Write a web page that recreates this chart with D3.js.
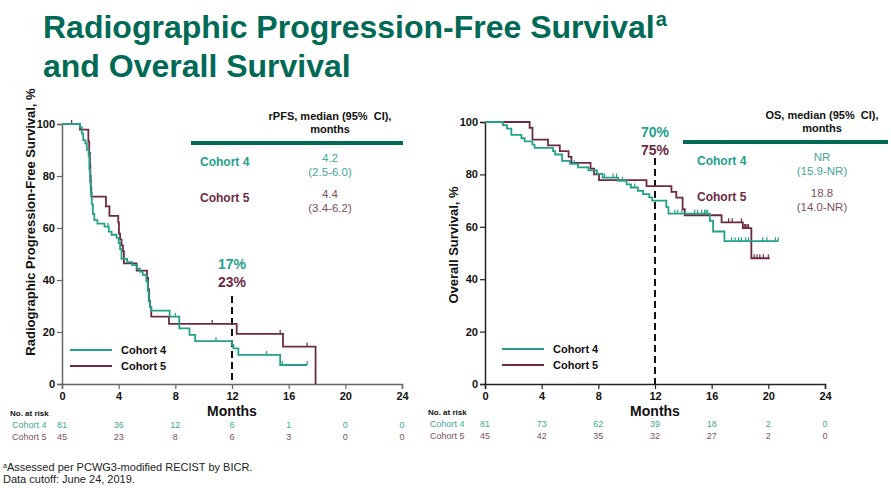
<!DOCTYPE html>
<html><head><meta charset="utf-8">
<script src="https://cdn.jsdelivr.net/npm/d3@7"></script>
<style>body{margin:0;background:#fff}svg{display:block;font-family:"Liberation Sans",Arial,sans-serif}text{white-space:pre}</style>
</head><body>
<script>
// ---------- DATA ----------
const monthTicks = [0,4,8,12,16,20,24];
const yTicks = [0,20,40,60,80,100];
const cohorts = ["Cohort 4","Cohort 5"];

const rpfsC4 = [[0,100],[1.27,98.8],[1.4,96.3],[1.5,93.8],[1.65,92.6],[1.75,90.1],[1.88,87.7],[1.93,82.7],[1.98,77.8],[2.03,73.5],[2.1,69.1],[2.18,65.4],[2.28,63],[2.5,61.7],[3.0,60.5],[3.3,58.6],[3.5,57.4],[3.85,56.2],[4.0,54.3],[4.1,51.9],[4.2,48.1],[4.6,46.9],[4.95,45.7],[5.3,44.4],[5.5,43.2],[5.7,42],[5.95,39.5],[6.05,35.8],[6.12,32.1],[6.2,29.6],[6.3,28.2],[7.6,25.9],[8.28,21.4],[9.0,18.9],[9.4,16.5],[12.0,15.0],[12.1,13.7],[12.45,11.2],[15.4,7.3],[17.3,7.3]];
const rpfsC5 = [[0,100],[1.27,97.8],[1.86,93.3],[1.92,88.9],[1.97,84.4],[2.0,80],[2.03,75.6],[2.07,72.1],[3.1,68.3],[3.35,64.7],[3.97,62.2],[4.02,57.8],[4.1,55.6],[4.2,53.3],[4.3,51.1],[4.37,46.4],[5.27,43.6],[6.0,40.8],[6.08,36.4],[6.15,32],[6.22,29.6],[6.3,25.9],[7.55,23.1],[12.33,19.25],[15.6,14.4],[17.9,0]];
const rpfsC4Censor = [3.25,8.0,10.87,14.45,15.55,17.3];
const rpfsC5Censor = [0.68,10.6,15.4,17.3];

const osC4 = [[0,100],[1.27,98.8],[1.55,97.5],[1.86,95.1],[2.57,93.8],[2.8,92.6],[3.35,91.4],[3.5,90.1],[4.8,88.9],[4.95,87.6],[5.44,85.2],[6.0,84],[6.57,82.7],[7.3,81.5],[7.9,80.2],[8.3,78.8],[9.4,77.5],[10.0,76.2],[10.3,75],[10.8,73.7],[11.16,72.5],[11.6,71.2],[11.8,70],[12.8,67.5],[12.95,65],[15.87,62.3],[16.1,58.2],[16.9,54.5],[20.7,54.5]];
const osC5 = [[0,100],[3.15,97.8],[3.35,93.3],[4.45,91.1],[5.28,88.9],[5.9,86.7],[6.1,84.4],[7.45,82.2],[7.7,80],[8.05,77.8],[11.4,75.5],[13.16,73.3],[13.5,71.1],[13.95,66.7],[14.1,64.4],[16.7,61.7],[18.2,59.5],[18.8,48],[20.1,48]];
const osC4Censor = [6.3,8.45,9.04,9.28,9.7,10.57,13.4,13.6,13.9,14.8,15.0,15.3,15.5,15.6,15.7,17.4,17.65,17.9,18.1,18.4,18.6,19.6,19.9,20.5,20.7];
const osC5Censor = [17.2,17.45,18.1,18.3,18.4,18.5,18.6,19.0,19.2,19.4,19.65,20.0];

const rpfsRiskC4 = [81,36,12,6,1,0,0];
const rpfsRiskC5 = [45,23,8,6,3,0,0];
const osRiskC4 = [81,73,62,39,18,2,0];
const osRiskC5 = [45,42,35,32,27,2,0];

const rpfsLandmark = ["17%","23%"];
const osLandmark = ["70%","75%"];
const rpfsMedian = [["4.2","(2.5-6.0)"],["4.4","(3.4-6.2)"]];
const osMedian = [["NR","(15.9-NR)"],["18.8","(14.0-NR)"]];

// ---------- STYLE ----------
const TEAL = "#24a08b", MAROON = "#6d2a44", TEAL_L = "#43a89a", MAROON_L = "#7c5060", GREEN = "#006a56";
const W = 891, H = 488;
const svg = d3.select("body").append("svg").attr("width", W).attr("height", H);

// Title
const title = svg.append("text").attr("x", 43).attr("y", 38).attr("fill", GREEN)
  .attr("font-size", 32).attr("font-weight", "bold");
title.append("tspan").text("Radiographic Progression-Free Survival");
title.append("tspan").attr("font-size", 20).attr("dy", -12).attr("dx", 1).text("a");
svg.append("text").attr("x", 43).attr("y", 77).attr("fill", GREEN)
  .attr("font-size", 32).attr("font-weight", "bold").text("and Overall Survival");

function stepVal(data, t) {
  let v = data[0][1];
  for (const d of data) { if (d[0] <= t) v = d[1]; }
  return v;
}

function panel(cfg) {
  const x = d3.scaleLinear().domain([0, 24]).range([cfg.x0, cfg.x1]);
  const y = d3.scaleLinear().domain([0, 100]).range([cfg.y0, cfg.y1]);
  const g = svg.append("g");

  // axes
  const ya = g.append("g").attr("transform", `translate(${cfg.x0},0)`)
    .call(d3.axisLeft(y).tickValues(yTicks).tickSize(5).tickPadding(2));
  const xa = g.append("g").attr("transform", `translate(0,${cfg.y0})`)
    .call(d3.axisBottom(x).tickValues(monthTicks).tickSize(5).tickPadding(3));
  [ya, xa].forEach(a => {
    a.select(".domain").attr("stroke", cfg.axisColor).attr("stroke-width", 1.5);
    a.selectAll(".tick line").attr("stroke", cfg.axisColor).attr("stroke-width", 1.2);
    a.selectAll(".tick text").attr("font-size", 11).attr("font-weight", "bold").attr("fill", "#111")
      .attr("font-family", '"Liberation Sans",Arial,sans-serif');
  });

  // y title
  g.append("text").attr("transform", `translate(${cfg.yTitleX},${cfg.yTitleY}) rotate(-90)`)
    .attr("text-anchor", "middle").attr("font-size", 13).attr("font-weight", "bold").attr("fill", "#111")
    .text(cfg.yTitle);
  // x title
  g.append("text").attr("x", x(12)).attr("y", cfg.monthsY).attr("text-anchor", "middle")
    .attr("font-size", 14).attr("font-weight", "bold").attr("fill", "#111").text("Months");

  // dashed landmark
  g.append("line").attr("x1", x(12)).attr("x2", x(12)).attr("y1", cfg.dashTop).attr("y2", cfg.y0)
    .attr("stroke", "#111").attr("stroke-width", 2).attr("stroke-dasharray", "7,4");
  g.append("text").attr("x", x(12)).attr("y", cfg.lmY).attr("text-anchor", "middle")
    .attr("font-size", 14).attr("font-weight", "bold").attr("fill", TEAL).text(cfg.landmark[0]);
  g.append("text").attr("x", x(12)).attr("y", cfg.lmY + 18).attr("text-anchor", "middle")
    .attr("font-size", 14).attr("font-weight", "bold").attr("fill", MAROON).text(cfg.landmark[1]);

  // curves
  const line = d3.line().x(d => x(d[0])).y(d => y(d[1])).curve(d3.curveStepAfter);
  const series = [[cfg.c5, MAROON, cfg.c5c], [cfg.c4, TEAL, cfg.c4c]];
  series.forEach(([data, col, cens]) => {
    g.append("path").datum(data).attr("d", line).attr("fill", "none").attr("stroke", col).attr("stroke-width", 1.8);
    g.selectAll(null).data(cens).enter().append("line")
      .attr("x1", d => x(d)).attr("x2", d => x(d))
      .attr("y1", d => y(stepVal(data, d))).attr("y2", d => y(stepVal(data, d)) - 4)
      .attr("stroke", col).attr("stroke-width", 1.2);
  });

  // legend
  [[TEAL, cohorts[0], cfg.legY], [MAROON, cohorts[1], cfg.legY + 16]].forEach(([col, lab, ly]) => {
    g.append("line").attr("x1", cfg.legX).attr("x2", cfg.legX + 42).attr("y1", ly).attr("y2", ly)
      .attr("stroke", col).attr("stroke-width", 2.2);
    g.append("text").attr("x", cfg.legX + 51).attr("y", ly + 4).attr("font-size", 11)
      .attr("font-weight", "bold").attr("fill", "#111").text(lab);
  });

  // median table
  g.append("text").attr("x", cfg.tabValX).attr("y", cfg.tabY).attr("text-anchor", "middle")
    .attr("font-size", 11).attr("font-weight", "bold").attr("fill", "#111").text(cfg.tabHead);
  g.append("text").attr("x", cfg.tabValX).attr("y", cfg.tabY + 13).attr("text-anchor", "middle")
    .attr("font-size", 11).attr("font-weight", "bold").attr("fill", "#111").text("months");
  g.append("line").attr("x1", cfg.tabX0).attr("x2", cfg.tabX1).attr("y1", cfg.tabY + 23).attr("y2", cfg.tabY + 23)
    .attr("stroke", GREEN).attr("stroke-width", 4);
  [[TEAL, TEAL_L, 0], [MAROON, MAROON_L, 1]].forEach(([col, colL, i]) => {
    const cy = cfg.tabY + 46 + i * 36;
    g.append("text").attr("x", cfg.tabLabX).attr("y", cy).attr("font-size", 12)
      .attr("font-weight", "bold").attr("fill", col).text(cohorts[i]);
    g.append("text").attr("x", cfg.tabValX).attr("y", cy - 4).attr("text-anchor", "middle")
      .attr("font-size", 11.5).attr("fill", colL).text(cfg.median[i][0]);
    g.append("text").attr("x", cfg.tabValX).attr("y", cy + 10).attr("text-anchor", "middle")
      .attr("font-size", 11.5).attr("fill", colL).text(cfg.median[i][1]);
  });

  // number at risk
  g.append("text").attr("x", cfg.riskLabX - 2).attr("y", cfg.riskY - 12).attr("font-size", 8)
    .attr("font-weight", "bold").attr("fill", "#111").text("No. at risk");
  [[TEAL_L, cfg.risk4, 0], [MAROON_L, cfg.risk5, 1]].forEach(([col, vals, i]) => {
    const ry = cfg.riskY + i * 12;
    g.append("text").attr("x", cfg.riskLabX).attr("y", ry).attr("font-size", 9).attr("fill", col).text(cohorts[i]);
    g.selectAll(null).data(vals).enter().append("text")
      .attr("x", (d, j) => x(monthTicks[j])).attr("y", ry).attr("text-anchor", "middle")
      .attr("font-size", 9).attr("fill", col).text(d => d);
  });
}

panel({
  x0: 62, x1: 402, y0: 384, y1: 124, axisColor: "#666",
  yTitle: "Radiographic Progression-Free Survival, %", yTitleX: 35, yTitleY: 222,
  monthsY: 416, dashTop: 296, lmY: 269, landmark: rpfsLandmark,
  c4: rpfsC4, c5: rpfsC5, c4c: rpfsC4Censor, c5c: rpfsC5Censor,
  legX: 70, legY: 350,
  tabHead: "rPFS, median (95%  CI),", tabValX: 330, tabY: 120, tabX0: 191, tabX1: 403, tabLabX: 200,
  median: rpfsMedian,
  riskLabX: 12, riskY: 428, risk4: rpfsRiskC4, risk5: rpfsRiskC5
});
panel({
  x0: 485, x1: 825, y0: 384, y1: 122, axisColor: "#222",
  yTitle: "Overall Survival, %", yTitleX: 458, yTitleY: 245,
  monthsY: 416, dashTop: 158, lmY: 137, landmark: osLandmark,
  c4: osC4, c5: osC5, c4c: osC4Censor, c5c: osC5Censor,
  legX: 502, legY: 349,
  tabHead: "OS, median (95%  CI),", tabValX: 822, tabY: 119, tabX0: 683, tabX1: 888, tabLabX: 697,
  median: osMedian,
  riskLabX: 430, riskY: 427, risk4: osRiskC4, risk5: osRiskC5
});

// footnotes
const fn = svg.append("text").attr("x", 3).attr("y", 471).attr("font-size", 11).attr("fill", "#222");
fn.append("tspan").attr("font-size", 7).attr("dy", -3).text("a");
fn.append("tspan").attr("dy", 3).text("Assessed per PCWG3-modified RECIST by BICR.");
svg.append("text").attr("x", 3).attr("y", 483).attr("font-size", 11).attr("fill", "#222").text("Data cutoff: June 24, 2019.");
</script>
</body></html>
